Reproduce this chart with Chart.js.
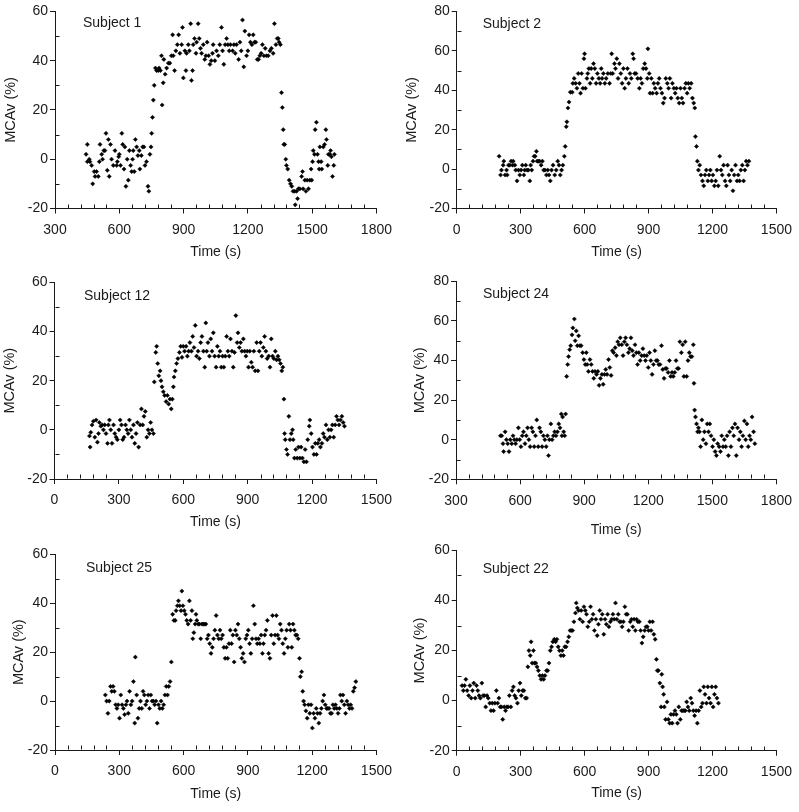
<!DOCTYPE html>
<html>
<head>
<meta charset="utf-8">
<script src="https://cdn.jsdelivr.net/npm/chart.js@4.4.1/dist/chart.umd.min.js"></script>
<style>
  html, body { margin: 0; padding: 0; background: #fff; overflow: hidden; }
  body { width: 799px; height: 812px; position: relative; }
  .panel { position: absolute; }
</style>
</head>
<body>
<div class="panel"><canvas id="c1"></canvas></div>
<div class="panel"><canvas id="c2"></canvas></div>
<div class="panel"><canvas id="c3"></canvas></div>
<div class="panel"><canvas id="c4"></canvas></div>
<div class="panel"><canvas id="c5"></canvas></div>
<div class="panel"><canvas id="c6"></canvas></div>
<script>
// Subject 1
const s1Time = [445,451,451,460,463,471,476,483,487,494,502,507,510,518,522,528,533,538,544,549,553,559,564,572,580,588,591,597,600,606,612,616,622,626,631,637,642,647,653,658,662,665,670,675,681,687,693,696,703,709,715,720,727,734,738,743,748,
  751,755,759,763,769,774,782,786,792,797,800,805,808,814,821,829,836,843,849,852,858,864,871,877,883,891,895,899,906,911,914,922,927,933,937,942,945,951,958,961,968,973,979,984,992,999,1004,1010,1017,1023,1029,1035,1038,1046,1054,1062,1069,1077,1082,1088,1094,1101,1107,1113,1119,1129,1135,1141,1147,1157,1163,1169,1175,1181,1186,1194,1200,1206,1212,1219,1225,1231,1237,1244,1250,1256,1262,1268,1275,1281,1287,1295,1303,1310,1318,1324,1331,1337,1342,1346,1352,
  1357,1361,1365,1368,1372,1377,1380,1386,1393,1399,1405,1411,1418,1421,1427,1432,1436,1443,1451,1455,1458,1466,1471,1477,1483,1489,1495,1498,1502,1505,1511,1514,1520,1525,1530,1533,1536,1542,1545,1552,1558,1564,1567,1573,1576,1583,1586,1590,1595,1601,1604];
const s1Mcav = [2,6,-1,0,-1,-2.5,-10,-5,-7,-5,-7,-1,6,2,0,3.5,3.5,10.5,-4.5,8,-7,6,0,-2.5,3.5,-2.5,-1,1,2,-2.5,10.5,6,-4,5,-11,0,-8.5,3.5,-2.5,-5,0,3.5,-5,8,5,1.5,3.5,-4,1.5,5,5,-2.5,-1,-11,-13,2,5,
  10.5,17,24,30,37,36,36,37,36,42,22,31,40.5,34.5,37,39,39,42,50.5,42,36,44,46.5,50.5,43,46.5,53.5,33,44,36,43,46.5,44,55,32,36,46.5,49,43,47.5,55,49,45,43,46.5,40.5,42,47.5,42,38.5,40,43,46.5,40,44,42,46.5,53.5,44,38.5,46.5,49,46.5,44,46.5,44,46.5,43,46.5,40.5,47.5,44,56.5,37.5,52,42,44,50.5,47.5,46.5,50.5,47.5,47.5,40.5,40.5,42,43,46.5,42,45,42,42,44,45,43,55,46.5,49,49,47.5,46.5,
  27,21,12,6,6,0,-2.5,-4,-8.5,-10,-11,-13,-13,-18.5,-13,-16,-12,-12,-7,-5,-12,-8.5,-13,-8.5,-12,-8.5,-4,-8.5,-1,3.5,2,12,15,2,-1,-4,5,-1,-4,5,6,12,8,-2.5,2,2,3.5,1,-7,-2.5,2];

// Subject 2
const s2Time = [199,206,210,218,221,227,234,237,243,249,255,262,265,273,277,283,290,296,302,308,315,319,324,330,336,343,347,352,358,363,368,374,377,383,389,396,402,408,414,421,427,433,439,445,452,460,467,474,480,486,492,498,
  505,509,514,517,522,527,533,542,545,551,558,564,570,576,581,586,592,597,600,604,611,615,620,626,631,636,642,648,654,660,667,673,678,682,688,695,701,709,717,723,727,732,740,745,751,757,763,770,776,782,788,794,801,807,813,819,826,830,835,841,849,857,863,869,875,882,888,894,897,903,907,913,919,925,931,938,944,950,956,963,969,975,981,988,994,1000,1006,1012,1019,1025,1031,1037,1044,1050,1056,1062,1069,1075,1081,1087,1093,1100,1106,1112,1117,
  1120,1125,1129,1134,1140,1146,1153,1159,1165,1171,1178,1184,1190,1196,1202,1209,1215,1221,1227,1234,1240,1246,1252,1259,1265,1271,1277,1283,1290,1296,1302,1308,1315,1321,1327,1333,1340,1346,1352,1358,1364,1371];
const s2Mcav = [6.5,-3,-0.5,2,4,-3,-0.5,-3,2,2,4,2,4,2,-0.5,-6,-0.5,-3,-0.5,2,-3,-0.5,2,-0.5,-0.5,-6,2,-0.5,4,6.5,6.5,9,4,4,4,2,4,-0.5,-0.5,-3,-0.5,-3,-6,-0.5,2,-3,-0.5,4,2,-3,-0.5,2,
  6.5,11.5,21.5,24,31,34,39,39,43.5,46,43.5,41,48.5,43.5,38.5,48.5,41,56,58.5,41,46,48.5,51,43.5,51,46,53.5,51,43.5,48.5,46,43.5,51,46,48.5,43.5,46,48.5,43.5,48.5,58.5,48.5,53.5,51,56,46,53.5,48.5,43.5,51,41,46,51,43.5,48.5,46,58.5,56,48.5,48.5,46,41,46,43.5,51,53.5,51,46,61,48.5,38.5,46,38.5,43.5,41,38.5,43.5,46,41,38.5,33.5,36,46,43.5,41,46,36,43.5,41,38.5,41,36,33.5,41,36,33.5,41,43.5,38.5,43.5,41,43.5,36,33.5,31,
  16.5,11.5,4,-0.5,2,-3,-6,-8.5,-3,-0.5,-6,-3,-0.5,-6,-3,-8.5,-6,-0.5,-8.5,6.5,-0.5,-3,2,-6,-8.5,2,-3,-6,-0.5,-11,-3,2,-6,-3,-6,-0.5,2,-6,-0.5,4,2,4];

// Subject 12
const s12Time = [163,166,169,175,181,188,194,200,205,209,216,222,228,234,240,247,251,256,262,268,275,281,287,293,300,306,312,318,324,331,337,343,349,355,361,368,374,380,386,392,399,405,411,417,423,430,436,442,448,454,461,
  465,472,476,481,486,492,496,501,507,513,520,526,532,538,544,549,554,557,563,569,575,582,588,594,600,606,613,619,625,631,638,644,650,656,662,669,675,681,687,694,700,705,709,715,722,728,734,740,746,753,759,765,771,777,783,789,796,802,808,814,820,827,833,839,845,851,855,861,867,873,880,886,892,898,904,910,917,923,929,935,942,948,954,960,966,973,979,985,991,998,1004,1010,1016,1022,1029,1035,1041,1047,1053,1059,1064,
  1069,1072,1075,1081,1086,1092,1097,1103,1109,1112,1118,1124,1131,1137,1143,1149,1155,1162,1168,1174,1180,1187,1190,1196,1202,1209,1215,1221,1227,1233,1239,1246,1252,1258,1265,1271,1277,1283,1289,1295,1301,1308,1314,1320,1326,1332,1339,1345,1351];
const s12Mcav = [-2.5,-7,-1,2,3.5,-3,4,-5,-1.5,3,1.5,2,0,2,-1.5,-5.5,2,4,0,-5.5,2,-1.5,-3,-4,0,4,2,-4,-3,2,0,-1.5,4,0,-3,2,-5.5,-1.5,3,-7,2,8.5,2,5.5,7.5,-3,0,-1.5,3,0,-1.5,
  19.5,31.5,34,27,22,24,20,17.5,15.5,14,11.5,14,10.5,12.5,8.5,12.5,17.5,21.5,24,27,29,31.5,34,29.5,34,32,34,30,32,35.5,32,38,33.5,42.5,30,32,29,35.5,38,32,25.5,43.5,32,35.5,30,37,32,39.5,30,25.5,34,30,32,25.5,30,25.5,30,38,32,30,37,32,25.5,31.5,46.5,35.5,39.5,33.5,35.5,32,37,32,30,32,25.5,32,27.5,25.5,32,24,35.5,24,32,35.5,30,33.5,38,32,29,30,25.5,37,30,29,32,28.5,30,28.5,27,24,25.5,
  12.5,-1.5,-4,-8,-10,5.5,-4,-1.5,0,-4,-11.5,-8,-11.5,-7,-11.5,-7,-11.5,-13,-8,-13,-4,1.5,4,-1.5,-7,-10,-5.5,-10,-5.5,-4,-7,-5.5,-1.5,-3,2,-4,0,-3,0,2,-3,2,5.5,4,2,4,5.5,3,1.5];

// Subject 24
const s24Time = [508,514,520,523,530,536,542,548,554,561,567,573,579,585,592,598,604,610,616,623,629,635,641,647,654,660,666,672,678,685,691,697,703,709,716,722,728,733,737,744,750,756,762,768,775,781,787,793,796,799,804,809,813,
  818,823,827,832,837,843,847,854,858,863,868,874,880,886,893,899,905,910,914,920,927,933,939,945,951,958,964,970,976,983,989,995,1001,1007,1014,1020,1026,1032,1038,1045,1051,1057,1063,1069,1076,1082,1088,1094,1100,1107,1113,1119,1125,1131,1138,1144,1150,1156,1162,1169,1175,1181,1187,1193,1200,1206,1212,1218,1224,1231,1237,1243,1249,1255,1262,1268,1274,1280,1286,1293,1299,1305,1311,1317,1324,1330,1336,1342,1348,1355,1361,1367,1373,1380,1386,1392,1398,1404,1411,1414,
  1417,1421,1426,1431,1435,1440,1445,1451,1457,1463,1470,1476,1482,1488,1494,1501,1507,1513,1519,1525,1532,1538,1544,1550,1556,1563,1569,1575,1581,1587,1594,1600,1606,1612,1618,1625,1631,1637,1643,1650,1656,1662,1668,1674,1680,1686,1693,1699];
const s24Mcav = [2,2,-2,-6,4,0,-2,-6,0,-2,2,0,-2,0,6,0,-3.5,2,4,-2,2,6,0,-3.5,6,4,-3.5,2,10,-3.5,6,4,-3.5,2,0,-3.5,2,-8,0,8,0,2,4,2,4,8,6,13,2,11.5,4,2,13,
  32,38,42,45.5,47.5,53,56.5,61,50,55,47.5,52.5,47.5,47.5,44,40.5,38,44,38,34.5,40.5,38,34.5,31,34.5,33,34.5,27.5,31,33,28,33,35.5,33,40.5,36.5,32.5,45,44,46.5,42.5,49.5,48,51.5,48,42.5,49.5,51.5,48,44,46,51.5,45,42.5,48,44,38,44,40,42.5,46,42.5,40,42.5,36.5,44,40,33,38,45,40,40,38,38,47.5,35.5,31,36,36,34,40,32,34,32,34,40,36,36,49.5,44,48,32,49.5,32,40,44,42,42,48,28.5,
  15,11.5,8,4,6,4,-3.5,10,0,4,-2,8,4,8,2,-3.5,0,-6,-8,-2,-3.5,-6,2,-3.5,0,-3.5,2,-8,4,-3.5,6,2,8,-8,6,0,4,-3.5,2,9.5,0,8,-3.5,2,0,11.5,4,-2];

// Subject 25
const s25Time = [235,241,247,253,259,265,271,277,283,289,295,301,307,313,319,325,331,336,342,348,354,360,366,372,375,381,387,393,399,405,411,417,423,429,435,441,447,453,459,465,471,477,483,489,495,501,507,513,519,525,531,537,
  543,549,555,561,565,571,576,582,588,592,597,603,609,615,621,627,633,639,643,648,654,658,662,668,674,680,686,692,698,704,710,716,722,728,734,740,746,752,758,764,770,776,782,788,794,800,806,812,818,824,830,836,842,848,854,860,866,872,878,884,890,896,902,908,914,920,926,932,938,944,950,956,962,968,973,979,985,991,997,1003,1009,1015,1021,1027,1033,1039,1045,1051,1057,1063,1069,1075,1081,1087,1093,1099,1105,1111,1117,1123,1129,1135,
  1141,1145,1151,1156,1160,1165,1171,1177,1183,1189,1195,1201,1207,1213,1219,1225,1231,1237,1243,1249,1255,1261,1267,1273,1279,1285,1291,1297,1303,1309,1315,1321,1327,1332,1338,1344,1350,1356,1362,1368,1374,1380,1386,1392,1398,1404];
const s25Mcav = [2.5,0,-5,0,6,4,6,4,-1.5,-3,-1.5,-7,2.5,-1.5,-3,-5.5,-1.5,0,-5,4,-1.5,0,8,-9,18,2.5,-7,-3,0,-3,4,2.5,-1.5,0,2.5,-3,2.5,0,0,-1.5,0,-9,-1.5,-3,0,-3,-1.5,2.5,6,2.5,6,8,
  16,35.5,33,33,37,39,41,39,37,45,39,37,35.5,33,31.5,41,33,37,25.5,28,31.5,35.5,33,31.5,31.5,25.5,31.5,31.5,31.5,31.5,25.5,27,23.5,19.5,22,25.5,29,35,27,25.5,29,25.5,27,22,17.5,22,17.5,23.5,29,23.5,27,16,29,27,31.5,25.5,22,17.5,19.5,16,25.5,27,29,23.5,19.5,25.5,39,31.5,25.5,23.5,25.5,23.5,27,19.5,23.5,27,29,33,19.5,17.5,27,35,23.5,27,35,27,25.5,31.5,29,23.5,19.5,25.5,29,22,31.5,29,22,31.5,29,27,27,25.5,
  17.5,10,12,4,0,-1.5,-4,-7,-1.5,-5,-1.5,-11,-5,-7,-3,-5,-9,-5,-3,0,2.5,-1.5,-3,-3,-3,-5,-5,-1.5,-3,-1.5,-3,-5,-3,2.5,0,2.5,-1.5,-5,0,-1.5,-3,-1.5,-3,4,5.5,8];

// Subject 22
const s22Time = [25,31,37,43,49,56,62,68,74,80,87,93,99,105,111,118,124,130,136,142,148,155,161,167,173,179,186,192,198,204,210,216,223,229,235,241,247,254,260,266,272,278,285,291,297,303,309,315,322,328,
  334,339,345,349,354,360,365,371,377,383,390,396,402,408,414,421,427,433,439,445,451,458,464,470,476,482,489,495,501,507,513,520,526,532,538,544,550,557,561,566,572,578,584,591,597,603,609,615,622,628,634,640,646,653,659,665,671,677,683,690,696,702,708,714,721,727,733,739,745,751,758,764,770,776,782,789,795,801,807,814,820,826,832,838,844,850,857,863,869,875,882,888,894,900,906,912,919,925,931,
  937,941,946,953,959,962,966,971,974,980,987,993,999,1005,1011,1017,1024,1030,1036,1042,1049,1055,1061,1067,1073,1079,1085,1091,1098,1104,1110,1116,1123,1129,1135,1141,1147,1153,1159,1165,1172,1178,1184,1191,1197,1203,1209,1215,1221,1228];
const s22Mcav = [6,4,6,8.5,4,2,6,1,4,7,1,6,4,2,1,7,2,2,-2.5,2,1,-1,-4,-1,-4,-1,4,-1,1,-2.5,-2.5,-7.5,-2.5,-4,-2.5,-2.5,2,-2.5,4,5.5,2,1,-1,4,7,2,4,4,1,1,
  13.5,20,18,23.5,15,20,15,15,13.5,12,10,8.5,10,8.5,10,12,12,15,20,21.5,23.5,24.5,23.5,24.5,21.5,20,18,20,18,21.5,21.5,23.5,25.5,28,28,28,31.5,35,39,37,36,32.5,36,31.5,37.5,36,34.5,29.5,31.5,37.5,32.5,34.5,28,32.5,26,30.5,36,32.5,34.5,26.5,32.5,30.5,34.5,29.5,31.5,32.5,34.5,32.5,39,32.5,34.5,31.5,31.5,29.5,31.5,37.5,34.5,34.5,28,31.5,32.5,29.5,32.5,28,32.5,31.5,31.5,28,23,25.5,28,29.5,29.5,28,31.5,28,31.5,26.5,24.5,
  16.5,12,12,7,-2.5,10.5,5.5,2.5,-2.5,-7.5,-0.5,-7.5,-9,-5.5,-9,-5.5,-4,-5.5,-9,-2.5,-7.5,-4,-4,-4,-4,-0.5,-2.5,-4,1,-1,-4,-6,-4,-9,-4,4,-2.5,-1,5.5,2.5,-1,5.5,1,-1,5.5,-2.5,2.5,5.5,1,-1];

const ink = '#1a1a1a';
const fontFamily = '"Liberation Sans", Arial, Helvetica, sans-serif';
const tickFont = 14;
const xTitleFont = 14;
const yTitleFont = 14.5;

// layout of the six panels, in page pixels
const panels = [
  {canvas: 'c1', label: 'Subject 1', time: s1Time, mcav: s1Mcav, xRange: [300, 1800], yRange: [-20, 60], col: 0,
   plot: {l: 55, r: 377, t: 10, b: 208.5}, yTitleX: 10.5, xTitleY: 253, labelAt: [28, 12]},
  {canvas: 'c2', label: 'Subject 2', time: s2Time, mcav: s2Mcav, xRange: [0, 1500], yRange: [-20, 80], col: 1,
   plot: {l: 456.7, r: 777.7, t: 9.5, b: 208.5}, yTitleX: 412, xTitleY: 253, labelAt: [26, 12.5]},
  {canvas: 'c3', label: 'Subject 12', time: s12Time, mcav: s12Mcav, xRange: [0, 1500], yRange: [-20, 60], col: 0,
   plot: {l: 54.5, r: 377, t: 281, b: 479}, yTitleX: 10, xTitleY: 523, labelAt: [29.5, 14]},
  {canvas: 'c4', label: 'Subject 24', time: s24Time, mcav: s24Mcav, xRange: [300, 1800], yRange: [-20, 80], col: 1,
   plot: {l: 456, r: 778.3, t: 280, b: 479.3}, yTitleX: 420, xTitleY: 531, labelAt: [27, 13]},
  {canvas: 'c5', label: 'Subject 25', time: s25Time, mcav: s25Mcav, xRange: [0, 1500], yRange: [-20, 60], col: 0,
   plot: {l: 55, r: 389, t: 553.3, b: 750}, yTitleX: 18.5, xTitleY: 795, labelAt: [31, 14]},
  {canvas: 'c6', label: 'Subject 22', time: s22Time, mcav: s22Mcav, xRange: [0, 1500], yRange: [-20, 60], col: 1,
   plot: {l: 456.7, r: 780, t: 549.3, b: 750.7}, yTitleX: 420, xTitleY: 794, labelAt: [26, 19]}
];

// small inward ticks: every 60 s on x, every 10 % on y
const minorTicks = {
  id: 'minorTicks',
  afterDraw(chart) {
    const {ctx, chartArea, scales: {x, y}} = chart;
    const base = Math.round(chartArea.bottom) - 0.5;
    const left = Math.round(chartArea.left) + 0.5;
    ctx.save();
    ctx.strokeStyle = ink;
    ctx.lineWidth = 1;
    ctx.beginPath();
    for (let v = x.min + 60; v < x.max; v += 60) {
      if ((v - x.min) % 300 === 0) continue;
      const px = Math.round(x.getPixelForValue(v)) + 0.5;
      ctx.moveTo(px, base);
      ctx.lineTo(px, base - 4);
    }
    for (let v = y.min + 10; v < y.max; v += 20) {
      const py = Math.round(y.getPixelForValue(v)) + 0.5;
      ctx.moveTo(left, py);
      ctx.lineTo(left + 4, py);
    }
    ctx.stroke();
    ctx.restore();
  }
};

const subjectLabel = {
  id: 'subjectLabel',
  afterDraw(chart, args, opts) {
    const {ctx, chartArea} = chart;
    ctx.save();
    ctx.font = '14px ' + fontFamily;
    ctx.fillStyle = ink;
    ctx.textBaseline = 'middle';
    ctx.fillText(opts.text, chartArea.left + opts.dx, chartArea.top + opts.dy);
    ctx.restore();
  }
};

panels.forEach(p => {
  const divX = p.col * 400;
  const divY = Math.round(p.plot.t) - 9;
  const yLH = yTitleFont * 1.2;
  const xLH = xTitleFont * 1.2;
  const padLeft = p.yTitleX - divX - yLH / 2;
  const padTop = p.plot.t - divY;
  const padRight = divX + 400 - p.plot.r;
  const height = Math.round(p.xTitleY + xLH / 2 - divY);
  const yWidth = p.plot.l - divX - padLeft;
  const xHeight = height - (p.plot.b - divY);

  const canvas = document.getElementById(p.canvas);
  canvas.parentNode.style.left = divX + 'px';
  canvas.parentNode.style.top = divY + 'px';
  canvas.width = 400;
  canvas.height = height;
  canvas.style.width = '400px';
  canvas.style.height = height + 'px';

  new Chart(canvas, {
    type: 'scatter',
    data: {
      datasets: [{
        data: p.time.map((t, i) => ({x: t, y: p.mcav[i]})),
        pointStyle: 'rectRot',
        pointRadius: 2.1,
        backgroundColor: '#000',
        borderColor: '#000',
        borderWidth: 0.5
      }]
    },
    options: {
      responsive: false,
      animation: false,
      events: [],
      layout: {padding: {left: padLeft, top: padTop, right: padRight, bottom: 0}},
      plugins: {
        legend: {display: false},
        tooltip: {enabled: false},
        subjectLabel: {text: p.label, dx: p.labelAt[0], dy: p.labelAt[1]}
      },
      scales: {
        x: {
          type: 'linear',
          min: p.xRange[0],
          max: p.xRange[1],
          afterFit: s => { s.height = xHeight; },
          border: {display: true, color: ink, width: 1},
          grid: {drawOnChartArea: false, drawTicks: true, tickLength: 5, color: ink},
          ticks: {stepSize: 300, color: ink, font: {family: fontFamily, size: tickFont}, padding: 8, maxRotation: 0, autoSkip: false,
                  callback: v => String(v)},
          title: {display: true, text: 'Time (s)', color: ink, font: {family: fontFamily, size: xTitleFont}, padding: 0}
        },
        y: {
          min: p.yRange[0],
          max: p.yRange[1],
          afterFit: s => { s.width = yWidth; },
          border: {display: true, color: ink, width: 1},
          grid: {drawOnChartArea: false, drawTicks: true, tickLength: 5, color: ink},
          ticks: {stepSize: 20, color: ink, font: {family: fontFamily, size: tickFont}, padding: 2,
                  callback: v => String(v)},
          title: {display: true, text: 'MCAv (%)', color: ink, font: {family: fontFamily, size: yTitleFont}, padding: 0}
        }
      }
    },
    plugins: [minorTicks, subjectLabel]
  });
});
</script>
</body>
</html>
